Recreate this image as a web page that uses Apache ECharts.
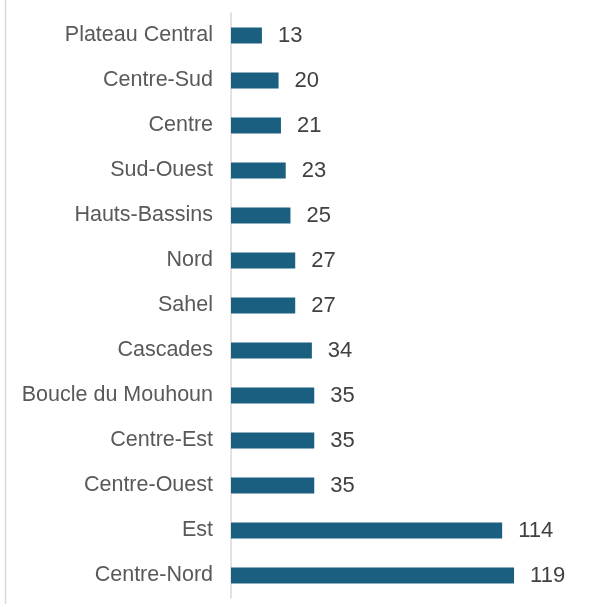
<!DOCTYPE html>
<html>
<head>
<meta charset="utf-8">
<script src="https://cdn.jsdelivr.net/npm/echarts@6/dist/echarts.min.js"></script>
<style>
  html, body { margin: 0; padding: 0; background: #ffffff; }
  #chart { width: 592px; height: 607px; }
</style>
</head>
<body>
<div id="chart"></div>
<script>
// Regions, listed top to bottom as drawn
const regions = [
  'Plateau Central', 'Centre-Sud', 'Centre', 'Sud-Ouest', 'Hauts-Bassins',
  'Nord', 'Sahel', 'Cascades', 'Boucle du Mouhoun', 'Centre-Est',
  'Centre-Ouest', 'Est', 'Centre-Nord'
];
const counts = [13, 20, 21, 23, 25, 27, 27, 34, 35, 35, 35, 114, 119];

const chart = echarts.init(document.getElementById('chart'), null, { renderer: 'canvas' });

chart.setOption({
  animation: false,
  backgroundColor: '#ffffff',
  graphic: [{
    type: 'line',
    shape: { x1: 5.5, y1: 0, x2: 5.5, y2: 604 },
    style: { stroke: '#d9d9d9', lineWidth: 1.5 }
  }],
  grid: { left: 231, top: 13, width: 333, height: 585, containLabel: false },
  xAxis: {
    type: 'value', min: 0, max: 140,
    show: false
  },
  yAxis: {
    type: 'category',
    inverse: true,
    data: regions,
    axisLine: { show: true, lineStyle: { color: '#d9d9d9', width: 1.5 } },
    axisTick: { show: false },
    axisLabel: {
      margin: 18,
      color: '#595959',
      fontFamily: 'Liberation Sans, Arial, sans-serif',
      fontSize: 21.5
    }
  },
  series: [{
    type: 'bar',
    data: counts,
    barWidth: 16,
    itemStyle: { color: '#1a5f80' },
    label: {
      show: true,
      position: 'right',
      distance: 16,
      color: '#404040',
      fontFamily: 'Liberation Sans, Arial, sans-serif',
      fontSize: 22
    }
  }]
});
</script>
</body>
</html>
